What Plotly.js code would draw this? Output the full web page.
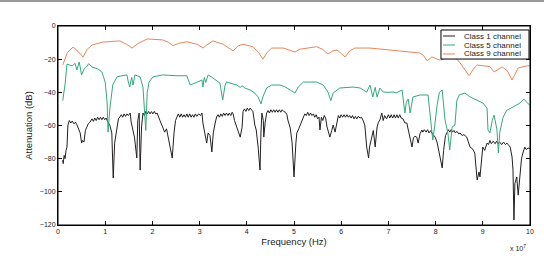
<!DOCTYPE html>
<html>
<head>
<meta charset="utf-8">
<script src="https://cdn.plot.ly/plotly-3.0.1.min.js"></script>
<style>html,body{margin:0;padding:0;background:#fff;}#chart{width:544px;height:256px;}</style>
</head>
<body>
<div id="chart"></div>
<script>
// Frequency in units of 1e7 Hz, attenuation in dB
const seriesNames = ["Class 1 channel", "Class 5 channel", "Class 9 channel"];
const seriesColors = ["#231f20", "#35a97b", "#e8865c"];

const class1Pts = [
 [0.1,-80.8],[0.11,-83],[0.13,-78],[0.15,-80],[0.17,-75],[0.19,-73],[0.21,-59.7],[0.24,-57],[0.27,-58.5],[0.3,-57.3],
 [0.34,-59],[0.37,-58],[0.4,-59.5],[0.44,-63],[0.47,-64.5],[0.5,-70.6],[0.52,-69],[0.55,-70],[0.58,-63],[0.61,-61],
 [0.64,-59],[0.68,-57.9],[0.72,-56],[0.75,-57.5],[0.78,-55.5],[0.81,-57],[0.84,-55],[0.87,-56.5],[0.9,-55],[0.93,-56.5],
 [0.96,-55],[0.99,-56.5],[1.02,-55.5],[1.06,-58],[1.1,-60],[1.14,-64.5],[1.17,-91.7],[1.2,-70.6],[1.25,-60.9],[1.28,-56],
 [1.31,-54.9],[1.34,-53.5],[1.37,-55],[1.4,-53],[1.43,-54.5],[1.46,-53],[1.49,-54],[1.53,-52.5],[1.55,-58],[1.59,-62.7],
 [1.62,-67],[1.67,-79.6],[1.69,-57],[1.72,-52.5],[1.74,-86.9],[1.77,-60.9],[1.8,-52.5],[1.83,-54],[1.86,-51.5],[1.89,-53],
 [1.92,-51.5],[1.95,-53],[1.98,-51.6],[2.01,-53],[2.04,-51.5],[2.07,-53],[2.1,-52.5],[2.16,-57],[2.22,-60.9],[2.26,-64],
 [2.3,-62],[2.33,-67],[2.37,-73],[2.42,-79.6],[2.46,-64],[2.49,-57],[2.52,-54.9],[2.55,-53],[2.58,-55],[2.61,-53],
 [2.64,-55],[2.67,-53.5],[2.7,-55],[2.73,-53],[2.76,-55],[2.79,-53],[2.82,-55],[2.85,-53.5],[2.88,-55],[2.91,-53],
 [2.94,-54.5],[2.98,-53],[3.02,-54],[3.05,-52.5],[3.07,-58.5],[3.11,-63.9],[3.15,-70.6],[3.18,-64.5],[3.22,-66],[3.26,-76],
 [3.29,-64.5],[3.33,-58.5],[3.36,-54.9],[3.39,-53.5],[3.42,-55],[3.45,-53],[3.48,-54.5],[3.51,-52.5],[3.54,-54],[3.57,-52.5],
 [3.6,-54],[3.63,-52.5],[3.66,-54],[3.69,-52],[3.71,-53],[3.74,-57],[3.79,-60.9],[3.82,-64.5],[3.86,-67],[3.9,-61],
 [3.92,-51.6],[3.95,-50],[3.98,-51.5],[4.01,-49.5],[4.04,-51],[4.07,-49.5],[4.1,-51],[4.13,-51.6],[4.17,-59.7],[4.2,-62.7],
 [4.24,-73],[4.28,-86.9],[4.3,-64],[4.32,-52.5],[4.35,-57],[4.36,-67],[4.39,-58],[4.42,-52.5],[4.45,-51],[4.48,-52.5],
 [4.51,-50.5],[4.54,-52],[4.57,-50.5],[4.6,-52],[4.63,-50.5],[4.66,-52],[4.69,-50.5],[4.72,-52],[4.75,-50.5],[4.78,-51.5],
 [4.82,-52],[4.85,-53.5],[4.87,-56.7],[4.92,-61.5],[4.96,-70.6],[5.0,-91],[5.04,-70.6],[5.06,-64.5],[5.1,-62],[5.13,-59.7],
 [5.17,-56],[5.2,-54.9],[5.23,-53],[5.26,-54],[5.29,-52],[5.32,-54],[5.35,-52.5],[5.38,-54],[5.41,-53],[5.44,-55],
 [5.47,-53.5],[5.5,-56],[5.53,-55],[5.55,-62.7],[5.58,-55],[5.61,-57],[5.64,-54],[5.67,-55.5],[5.7,-60.9],[5.73,-65],
 [5.76,-67],[5.8,-63],[5.83,-59.7],[5.87,-64],[5.91,-56.7],[5.94,-54],[5.97,-55.5],[6.0,-53.5],[6.03,-55],[6.06,-53.5],
 [6.09,-55],[6.12,-53.5],[6.15,-55],[6.18,-54],[6.21,-55.5],[6.24,-54],[6.27,-56],[6.3,-54.5],[6.33,-56],[6.36,-54.5],
 [6.4,-55.5],[6.43,-55],[6.46,-56.7],[6.5,-59.7],[6.54,-73],[6.58,-79.6],[6.6,-73],[6.65,-67],[6.68,-63],[6.72,-73],
 [6.76,-60.9],[6.79,-58],[6.82,-56.7],[6.86,-52.5],[6.89,-57],[6.92,-54],[6.96,-56],[7.0,-53.5],[7.03,-55.5],[7.06,-53.5],
 [7.09,-55.5],[7.12,-53.5],[7.15,-55.5],[7.18,-53.5],[7.21,-55.5],[7.24,-53.5],[7.27,-55.5],[7.31,-56],[7.35,-58.5],[7.39,-58.5],
 [7.42,-62.7],[7.46,-67],[7.5,-73],[7.53,-67.5],[7.56,-66.5],[7.6,-67],[7.63,-70.6],[7.67,-65],[7.71,-62.7],[7.73,-64],
 [7.76,-62.5],[7.8,-64],[7.83,-62.5],[7.86,-64.5],[7.9,-63],[7.92,-64.5],[7.96,-66],[7.99,-67],[8.03,-70],[8.05,-73],
 [8.09,-79.6],[8.14,-85.6],[8.17,-75],[8.21,-66],[8.24,-64.5],[8.27,-62.5],[8.3,-64],[8.33,-62.5],[8.36,-64],[8.39,-63],
 [8.42,-64.5],[8.45,-63.5],[8.49,-65],[8.52,-64.5],[8.56,-66],[8.6,-65.5],[8.66,-67],[8.7,-70],[8.73,-73],[8.78,-74],
 [8.83,-76.6],[8.88,-92.9],[8.92,-88],[8.94,-91],[8.97,-79.6],[9.0,-73],[9.04,-75],[9.09,-70.6],[9.12,-71.5],[9.15,-69],
 [9.18,-71],[9.22,-69.5],[9.26,-71],[9.29,-69.5],[9.32,-71],[9.36,-70],[9.4,-71.5],[9.44,-70],[9.48,-71.5],[9.51,-70.6],
 [9.55,-72],[9.58,-73],[9.62,-79],[9.64,-86.9],[9.66,-117],[9.68,-95],[9.7,-92.9],[9.72,-91],[9.75,-102],[9.79,-86.9],
 [9.82,-80],[9.85,-76.6],[9.89,-73],[9.92,-74.5],[9.96,-73.6],[10,-74]
];

const class5Pts = [
 [0.1,-45],[0.15,-35],[0.19,-23],[0.25,-23.5],[0.3,-24],[0.36,-22.5],[0.4,-26.5],[0.45,-21.7],[0.5,-29.5],[0.55,-26],
 [0.6,-24.7],[0.65,-22.7],[0.72,-24.7],[0.85,-26],[0.93,-27.7],[1.0,-33.8],[1.04,-45.8],[1.06,-64],[1.08,-55],[1.1,-49.5],
 [1.16,-35.6],[1.25,-30.7],[1.35,-30],[1.46,-29.5],[1.49,-33.8],[1.52,-36.8],[1.56,-31],[1.59,-35.6],[1.63,-29.5],[1.74,-30.7],
 [1.8,-36.8],[1.84,-52],[1.86,-63],[1.89,-40],[1.93,-33.8],[2.01,-30.7],[2.22,-29.5],[2.52,-30],[2.73,-30],[2.8,-35.6],
 [2.92,-34],[3.05,-32.6],[3.07,-36.8],[3.1,-31],[3.13,-34],[3.18,-29.5],[3.25,-30.7],[3.33,-32.6],[3.43,-34.4],[3.49,-44.6],
 [3.54,-35.6],[3.57,-33.8],[3.79,-35.6],[3.86,-37],[3.9,-36],[3.96,-37.4],[4.07,-38.6],[4.17,-40.4],[4.24,-42.8],[4.3,-47],
 [4.34,-42.8],[4.42,-37.4],[4.53,-35.6],[4.7,-35.6],[4.8,-36.5],[4.92,-38.6],[5.02,-40.4],[5.09,-36.8],[5.2,-33.8],[5.48,-33.8],
 [5.62,-35.6],[5.72,-39.8],[5.78,-45],[5.83,-40.4],[5.97,-37.4],[6.25,-36.8],[6.4,-37.4],[6.54,-39.8],[6.61,-35.6],[6.67,-42.8],
 [6.72,-37],[6.76,-42.8],[6.82,-37.4],[6.89,-39.8],[6.98,-40],[7.1,-39.8],[7.16,-40.4],[7.29,-38.6],[7.32,-46],[7.35,-52.5],
 [7.38,-46],[7.42,-44],[7.46,-52.5],[7.49,-46],[7.52,-42.8],[7.67,-41.6],[7.84,-41.6],[7.88,-52.5],[7.94,-68.8],[7.98,-60.5],
 [8.03,-48],[8.08,-40],[8.14,-38.6],[8.2,-56.7],[8.26,-64.5],[8.3,-74.8],[8.35,-60.9],[8.41,-59.7],[8.45,-45],[8.5,-41.6],
 [8.62,-40.4],[8.73,-42.8],[8.88,-44.6],[9.0,-46.4],[9.09,-49.5],[9.11,-62.7],[9.15,-64.5],[9.2,-57],[9.24,-53.7],[9.3,-62.7],
 [9.33,-76.6],[9.36,-64],[9.43,-55],[9.51,-50.7],[9.64,-48.9],[9.79,-46.4],[9.87,-44],[9.95,-46.5],[10,-48]
];

const class9Pts = [
 [0.1,-23.5],[0.2,-16],[0.32,-12.7],[0.43,-15.5],[0.53,-18.7],[0.62,-14],[0.72,-11.5],[0.95,-9.7],[1.31,-9],[1.45,-11],
 [1.57,-13.3],[1.7,-10.5],[1.89,-7.8],[2.22,-8.4],[2.35,-10],[2.44,-11.9],[2.55,-10.5],[2.73,-9.5],[2.95,-11],[3.07,-13.3],
 [3.15,-11.5],[3.28,-9],[3.5,-11],[3.71,-15],[3.82,-12],[3.92,-11],[4.13,-12.5],[4.25,-16],[4.34,-20],[4.43,-16],
 [4.53,-13.3],[4.77,-13.3],[4.9,-14.5],[5.02,-15.7],[5.12,-14],[5.27,-13.3],[5.48,-12.5],[5.6,-14],[5.72,-16.9],[5.82,-15],
 [5.91,-14.5],[6.0,-16.5],[6.08,-18.7],[6.18,-15],[6.29,-13.3],[6.61,-13.3],[6.82,-13.9],[7.18,-15],[7.67,-16.3],[7.75,-18],
 [7.82,-21],[7.92,-18.7],[8.09,-20.5],[8.3,-19],[8.45,-20],[8.52,-22.3],[8.62,-26],[8.71,-30],[8.8,-26],[8.88,-23.5],
 [9.15,-24.5],[9.24,-27.7],[9.41,-24.7],[9.52,-27],[9.62,-32.6],[9.7,-28],[9.75,-25.3],[9.94,-24],[10,-24]
];

const xTickVals = [0,1,2,3,4,5,6,7,8,9,10];
const yTickVals = [0,-20,-40,-60,-80,-100,-120];

const allPts = [class1Pts, class5Pts, class9Pts];
const traces = allPts.map((pts, i) => ({
  type: 'scatter', mode: 'lines',
  x: pts.map(p => p[0]), y: pts.map(p => p[1]),
  name: seriesNames[i],
  line: {color: seriesColors[i], width: 1},
  showlegend: false
}));

const FONT = '"Liberation Sans", Arial, Helvetica, sans-serif';

// manual legend (box, sample lines, labels)
const lgX0 = 0.8114, lgX1 = 0.9979, lgY0 = 0.834, lgY1 = 0.9799;
const rowY = [0.9497, 0.9045, 0.8593];
const shapes = [
  {type:'rect', xref:'paper', yref:'paper', x0:-0.1229, x1:1.0297, y0:1.1206, y1:1.1307, fillcolor:'#9a9a9a', line:{width:0}, layer:'above'},
  {type:'rect', xref:'paper', yref:'paper', x0:0, x1:1, y0:0, y1:1, line:{color:'#000', width:1}, layer:'above'},
  {type:'rect', xref:'paper', yref:'paper', x0:lgX0, x1:lgX1, y0:lgY0, y1:lgY1, fillcolor:'#ffffff', line:{color:'#000', width:1}, layer:'above'}
];
const annotations = [];
seriesNames.forEach((nm, i) => {
  shapes.push({type:'line', xref:'paper', yref:'paper', x0:0.8157, x1:0.8411, y0:rowY[i], y1:rowY[i], line:{color:seriesColors[i], width:1}, layer:'above'});
  annotations.push({xref:'paper', yref:'paper', x:0.8560, y:rowY[i], xanchor:'left', yanchor:'middle', text:nm, showarrow:false, font:{family:FONT, size:8, color:'#222'}});
});
annotations.push({xref:'paper', yref:'paper', x:0.995, y:-0.085, xanchor:'right', yanchor:'top', text:'x 10<sup>7</sup>', showarrow:false, font:{family:FONT, size:7, color:'#222'}});

const layout = {
  width: 544, height: 256,
  margin: {l: 58, r: 14, t: 26, b: 31},
  paper_bgcolor: '#fff', plot_bgcolor: '#fff',
  font: {family: FONT, size: 7, color: '#222'},
  xaxis: {
    range: [0, 10], tickvals: xTickVals, ticks: 'inside', ticklen: 4, tickcolor: '#000',
    showline: true, linecolor: '#000', linewidth: 1, mirror: 'ticks', showgrid: false, zeroline: false,
    title: {text: 'Frequency (Hz)', font: {family: FONT, size: 9.5, color: '#222'}, standoff: 3},
    tickfont: {size: 7}, automargin: false
  },
  yaxis: {
    range: [-120, 0], tickvals: yTickVals, ticks: 'inside', ticklen: 4, tickcolor: '#000',
    showline: true, linecolor: '#000', linewidth: 1, mirror: 'ticks', showgrid: false, zeroline: false,
    title: {text: 'Attenuation (dB)', font: {family: FONT, size: 9.5, color: '#222'}, standoff: 5},
    tickfont: {size: 7}, automargin: false
  },
  shapes: shapes,
  annotations: annotations,
  showlegend: false
};

Plotly.newPlot('chart', traces, layout, {displayModeBar: false, staticPlot: true});
</script>
</body>
</html>
